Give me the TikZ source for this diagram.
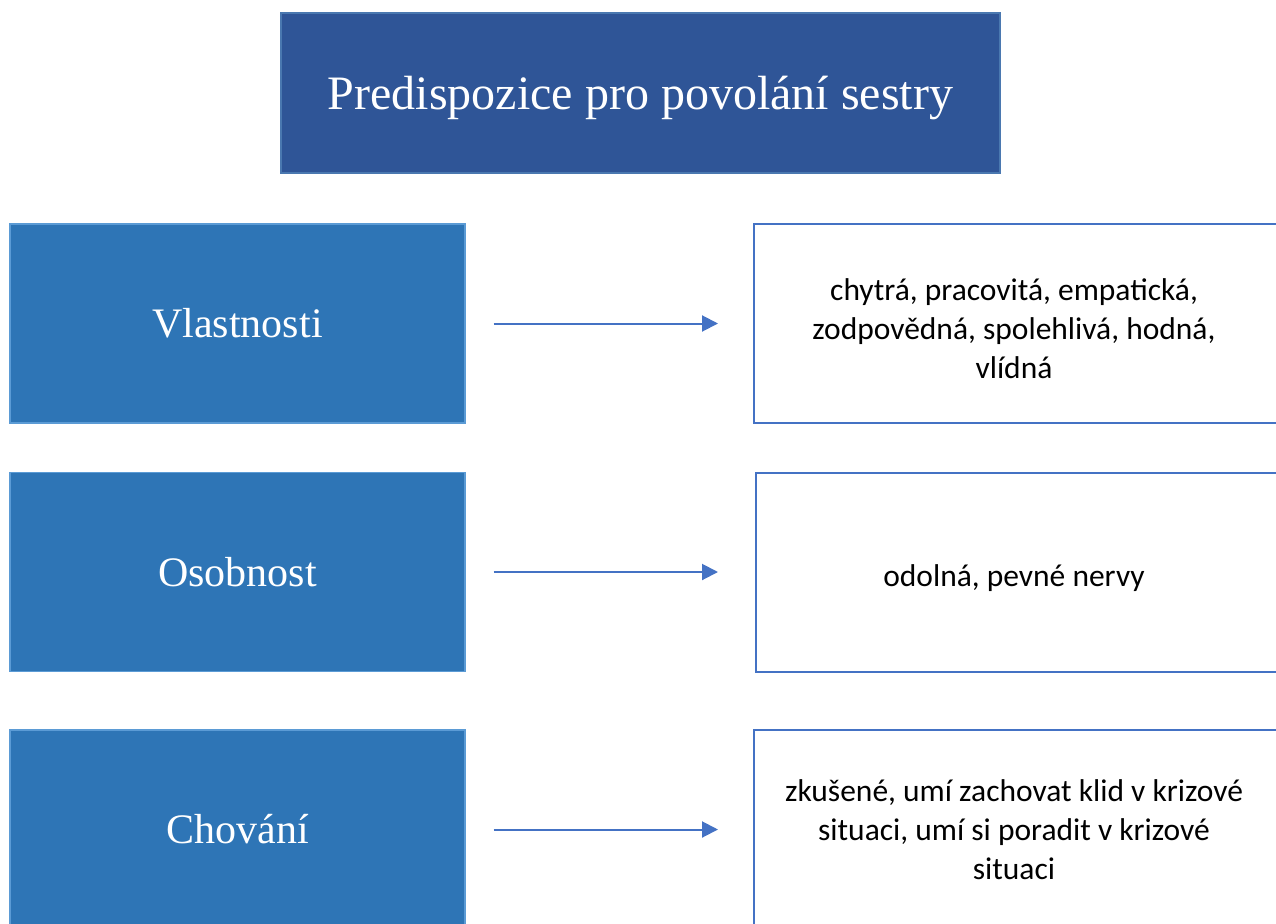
\documentclass[tikz,border=0pt]{standalone}
\usepackage{fontspec}
\setmainfont{Liberation Serif}
\newfontfamily\calib{Carlito}
\usetikzlibrary{arrows.meta}
\definecolor{titlefill}{HTML}{2F5597}
\definecolor{titleline}{HTML}{4A78B0}
\definecolor{leftfill}{HTML}{2E75B6}
\definecolor{leftline}{HTML}{5B9BD5}
\definecolor{accent}{HTML}{4472C4}
\begin{document}
\begin{tikzpicture}[x=1pt,y=-1pt,
 titlebox/.style={draw=titleline, line width=1.5pt, fill=titlefill, text=white, minimum width=719pt, minimum height=160pt, inner sep=0pt, text height=40pt, text depth=6pt, font=\fontsize{48}{56}\selectfont},
 catbox/.style={draw=leftline, line width=1.2pt, fill=leftfill, text=white, minimum width=455pt, minimum height=199pt, inner sep=0pt, font=\fontsize{42}{50}\selectfont},
 descbox/.style={draw=accent, line width=2pt, fill=white, minimum width=524pt, minimum height=199pt, inner sep=0pt},
 desctext/.style={inner sep=0pt, align=center, font=\calib\fontsize{31.5}{39}\selectfont},
 link/.style={draw=accent, line width=2pt, -{Triangle[length=16pt,width=16pt]}}]
\clip (0,0) rectangle (1276,923);
\node[titlebox] (title) at (640.5,93) {Predispozice pro povolání sestry};

\node[catbox] (c1) at (237.5,323.5) {Vlastnosti};
\node[catbox] (c2) at (237.5,572) {Osobnost};
\node[catbox] (c3) at (237.5,829.5) {Chování};

\node[descbox] (d1) at (1016,323.5) {};
\node[descbox] (d2) at (1018,572) {};
\node[descbox] (d3) at (1016,829.5) {};
\node[desctext, yshift=-5pt] (t1) at (1014,323.5) {chytrá, pracovitá, empatická,\\zodpovědná, spolehlivá, hodná,\\vlídná};
\node[desctext, yshift=-6pt] (t2) at (1014,572) {odolná, pevné nervy};
\node[desctext] (t3) at (1014,829.5) {zkušené, umí zachovat klid v krizové\\situaci, umí si poradit v krizové\\situaci};

\draw[link, shorten <=28pt, shorten >=35pt] (c1.east) -- (d1.west);
\draw[link, shorten <=28pt, shorten >=37pt] (c2.east) -- (d2.west);
\draw[link, shorten <=28pt, shorten >=35pt] (c3.east) -- (d3.west);
\end{tikzpicture}
\end{document}
